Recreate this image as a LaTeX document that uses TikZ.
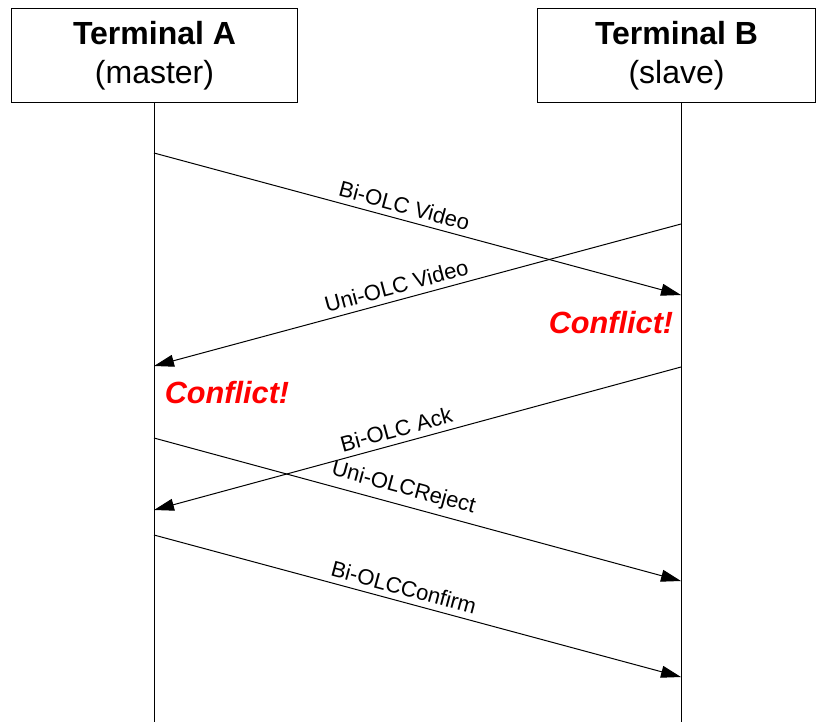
\documentclass[tikz,border=0pt]{standalone}
\usepackage{fontspec}
\setmainfont{Liberation Sans}
\usetikzlibrary{arrows.meta,positioning,calc}
\definecolor{conflictred}{HTML}{FF0000}

\begin{document}
\begin{tikzpicture}[
    x=0.75pt, y=-0.75pt,
    term/.style={draw, line width=0.75pt, minimum width=#1,
                 minimum height=71pt, align=center, inner sep=0pt,
                 font=\fontsize{24}{28}\selectfont},
    life/.style={line width=0.75pt},
    msg/.style={-{Triangle[length=15pt, width=9pt]}, line width=0.75pt},
    lbl/.style={pos=#1, sloped, above=1pt, font=\fontsize{16.5}{19}\selectfont},
    warn/.style={font=\fontsize{23}{27}\selectfont\bfseries\itshape,
                 text=conflictred, inner sep=0pt}
  ]
    \useasboundingbox (0,0) rectangle (816,722);

    % === Terminals ===
    \node[term=215pt] (termA) at (154.5,55.5)
      {\textbf{Terminal A}\\[1pt](master)};
    \node[term=208pt] (termB) at (676.5,55.5)
      {\textbf{Terminal B}\\[1pt](slave)};

    \coordinate (endA) at (154,722);
    \coordinate (endB) at (681,722);
    \draw[life] (termA.south -| endA) -- (endA);
    \draw[life] (termB.south -| endB) -- (endB);

    % === Points on the lifelines ===
    \coordinate (a1) at (154,153);
    \coordinate (a2) at (154,366);
    \coordinate (a3) at (154,510);
    \coordinate (a4) at (154,438);
    \coordinate (a5) at (154,535);
    \coordinate (b1) at (681,295);
    \coordinate (b2) at (681,224);
    \coordinate (b3) at (681,367);
    \coordinate (b4) at (681,581);
    \coordinate (b5) at (681,677);

    % === Messages ===
    \draw[msg] (a1) -- (b1) node[lbl=0.468] {Bi-OLC Video};
    \draw[msg] (b2) -- (a2) node[lbl=0.533] {Uni-OLC Video};
    \draw[msg] (b3) -- (a3) node[lbl=0.533] {Bi-OLC Ack};
    \draw[msg] (a4) -- (b4) node[lbl=0.465] {Uni-OLCReject};
    \draw[msg] (a5) -- (b5) node[lbl=0.467] {Bi-OLCConfirm};

    % Conflicts
    \node[warn] (confB) at (611,323) {Conflict!};
    \node[warn] (confA) at (227,393) {Conflict!};
  \end{tikzpicture}
\end{document}
